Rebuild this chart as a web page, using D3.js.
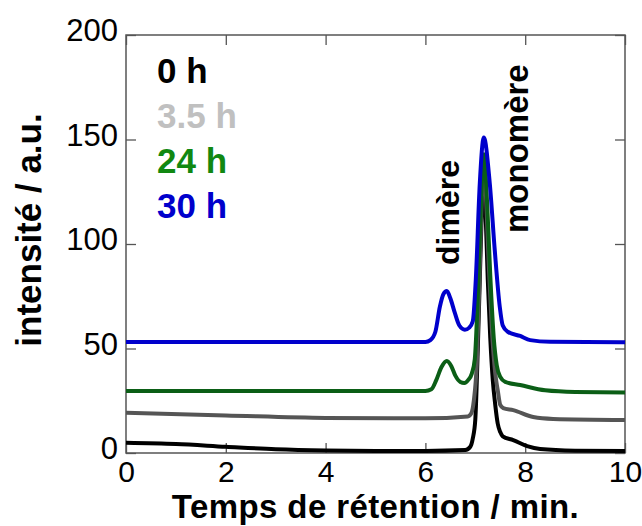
<!DOCTYPE html>
<html>
<head>
<meta charset="utf-8">
<script src="https://cdn.jsdelivr.net/npm/d3@7"></script>
<style>
  body { margin: 0; background: #fff; }
  text { font-family: "Liberation Sans", Arial, sans-serif; }
</style>
</head>
<body>
<div id="chart"></div>
<script>
// retention time (min) and intensity for each sample
const t0h = [0, 1, 2, 3, 4, 5, 6, 6.8, 6.9, 6.95, 7.0, 7.05, 7.09, 7.13, 7.17, 7.21, 7.25, 7.3, 7.35, 7.4, 7.45, 7.5, 7.55, 7.76, 8.04, 8.3, 9, 10];
const i0h = [4.9, 4.3, 3.0, 1.8, 1.2, 1.0, 1.0, 1.4, 3, 7, 16, 50, 83, 115, 128, 112, 83, 55, 35, 23, 14, 10, 8, 6.2, 3.3, 1.9, 1.1, 0.9];

const t35h = [0, 2, 4, 6, 6.85, 6.92, 6.97, 7.03, 7.08, 7.12, 7.17, 7.22, 7.27, 7.33, 7.4, 7.45, 7.5, 7.56, 7.76, 8.16, 8.56, 10];
const i35h = [19.3, 18, 16.8, 16.6, 17.5, 19, 25, 43, 80, 115, 137, 120, 90, 60, 38, 30, 23, 21.5, 20.5, 17.2, 16.3, 15.8];

const t24h = [0, 3, 6.0, 6.12, 6.22, 6.32, 6.43, 6.52, 6.6, 6.7, 6.78, 6.86, 6.93, 6.99, 7.05, 7.1, 7.17, 7.24, 7.3, 7.37, 7.43, 7.5, 7.6, 7.9, 8.4, 9, 10];
const i24h = [29.7, 29.7, 29.7, 30.5, 35, 41, 44, 41.5, 37, 34, 33.5, 35, 38, 45, 75, 110, 143, 118, 85, 55, 42, 36.4, 34, 32.5, 30, 29.2, 29];

const t30h = [0, 3, 6.0, 6.1, 6.2, 6.29, 6.36, 6.43, 6.5, 6.59, 6.68, 6.79, 6.88, 6.95, 7.01, 7.09, 7.17, 7.29, 7.39, 7.49, 7.55, 7.65, 7.9, 8.1, 8.5, 10];
const i30h = [53.1, 53.1, 53.1, 54, 58, 70, 76, 77.5, 74, 67, 61, 59, 60, 63, 83, 129, 151, 129, 97, 70, 61, 58, 56, 54, 53.2, 53];

const labels = ["0 h", "3.5 h", "24 h", "30 h"];
const lineColors = ["#000000", "#555555", "#0b5e16", "#0000cc"];
const labelColors = ["#000000", "#c0c0c0", "#118811", "#0000cc"];
const xTicks = [0, 2, 4, 6, 8, 10];
const yTicks = [0, 50, 100, 150, 200];

const series = [
    { t: t0h, v: i0h },
    { t: t35h, v: i35h },
    { t: t24h, v: i24h },
    { t: t30h, v: i30h }
];

const W = 642, H = 526;
const margin = { top: 35, right: 17, bottom: 73, left: 126 };
const width = W - margin.left - margin.right;
const height = H - margin.top - margin.bottom;

const svg = d3.select("#chart")
    .append("svg")
    .attr("width", W)
    .attr("height", H)
    .append("g")
    .attr("transform", `translate(${margin.left},${margin.top})`);

const x = d3.scaleLinear().domain([0, 10]).range([0, width]);
const y = d3.scaleLinear().domain([0, 200]).range([height, 0]);

// axes: ticks inside on all four sides, labels on left and bottom
const axisColor = "#555";
function styleAxis(g) {
    g.select(".domain").remove();
    g.selectAll(".tick line").attr("stroke", axisColor).attr("stroke-width", 1.3);
}

svg.append("g")
    .attr("transform", `translate(0,${height})`)
    .call(d3.axisBottom(x).tickValues(xTicks).tickSize(-10))
    .call(styleAxis)
    .call(g => g.selectAll(".tick text")
        .attr("font-size", 30).attr("fill", "#000")
        .attr("y", 0).attr("dy", 29));

svg.append("g")
    .call(d3.axisLeft(y).tickValues(yTicks).tickSize(-10))
    .call(styleAxis)
    .call(g => g.selectAll(".tick text")
        .attr("font-size", 31).attr("fill", "#000")
        .attr("x", -8).attr("dy", "0.18em"));

svg.append("g")
    .call(d3.axisTop(x).tickValues(xTicks).tickSize(-10).tickFormat(""))
    .call(styleAxis);

svg.append("g")
    .attr("transform", `translate(${width},0)`)
    .call(d3.axisRight(y).tickValues(yTicks).tickSize(-10).tickFormat(""))
    .call(styleAxis);

svg.append("rect")
    .attr("width", width)
    .attr("height", height)
    .attr("fill", "none")
    .attr("stroke", axisColor)
    .attr("stroke-width", 1.5);

// traces
const line = d3.line()
    .x(d => x(d[0]))
    .y(d => y(d[1]))
    .curve(d3.curveMonotoneX);

series.forEach((s, i) => {
    svg.append("path")
        .datum(s.t.map((tt, k) => [tt, s.v[k]]))
        .attr("fill", "none")
        .attr("stroke", lineColors[i])
        .attr("stroke-width", 4)
        .attr("stroke-linejoin", "round")
        .attr("d", line);
});

// legend
svg.selectAll(".legend")
    .data(labels)
    .enter()
    .append("text")
    .attr("class", "legend")
    .attr("x", 31)
    .attr("y", (d, i) => 48 + i * 45)
    .attr("font-size", 35)
    .attr("font-weight", "bold")
    .attr("fill", (d, i) => labelColors[i])
    .text(d => d);

// peak annotations
svg.append("text")
    .attr("transform", "translate(333,230) rotate(-90)")
    .attr("font-size", 32)
    .attr("font-weight", "bold")
    .text("dimère");

svg.append("text")
    .attr("transform", "translate(402,198) rotate(-90)")
    .attr("font-size", 33)
    .attr("font-weight", "bold")
    .text("monomère");

// axis titles
svg.append("text")
    .attr("x", width / 2)
    .attr("y", height + 65)
    .attr("text-anchor", "middle")
    .attr("font-size", 33)
    .attr("font-weight", "bold")
    .attr("letter-spacing", 0.4)
    .text("Temps de rétention / min.");

svg.append("text")
    .attr("transform", `translate(-85,${195}) rotate(-90)`)
    .attr("text-anchor", "middle")
    .attr("font-size", 35)
    .attr("font-weight", "bold")
    .text("intensité / a.u.");
</script>
</body>
</html>
